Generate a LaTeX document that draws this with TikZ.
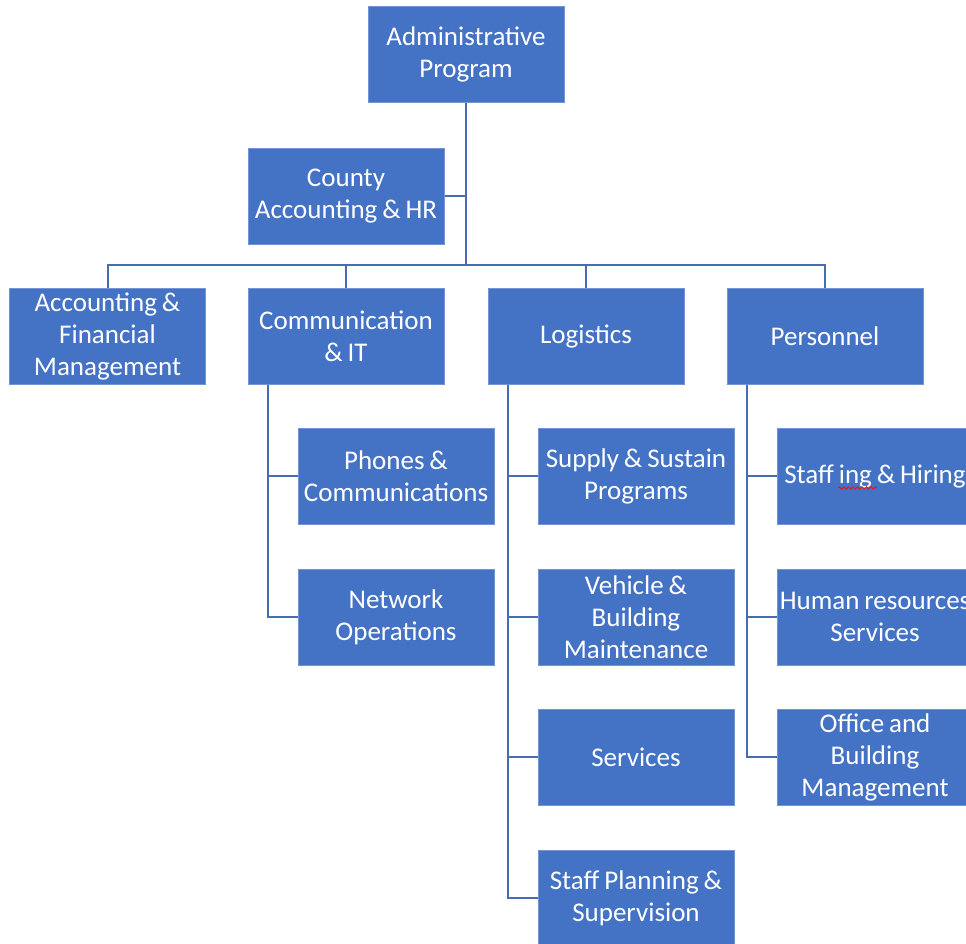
\documentclass[tikz,border=0pt]{standalone}
\usepackage{fontspec}
\setmainfont{Carlito}[WordSpace=0.8]
\usetikzlibrary{decorations.pathmorphing}
\definecolor{boxblue}{RGB}{68,114,196}
\definecolor{lineblue}{RGB}{72,108,178}
\definecolor{spellred}{RGB}{220,30,30}
\tikzset{
  orgbox/.style={rectangle, fill=boxblue, draw=boxblue!75!white, line width=1pt,
    minimum width=196pt, minimum height=96pt, inner sep=0pt,
    align=center, text=white,
    font=\fontsize{27}{32}\selectfont},
  link/.style={draw=lineblue, line width=2pt}
}
\begin{document}
\begin{tikzpicture}[x=1pt,y=-1pt]
\useasboundingbox (0,0) rectangle (966,943);
\clip (0,0) rectangle (966,943);
\node[orgbox] (admin) at (466,54.5) {Administrative\\Program};
\node[orgbox] (county) at (346,196) {County\\Accounting \& HR};
\node[orgbox] (acc) at (107.5,336) {Accounting \&\\Financial\\Management};
\node[orgbox] (comm) at (346,336) {Communication\\\& IT};
\node[orgbox] (log) at (586,336) {Logistics};
\node[orgbox] (pers) at (825,336) {Personnel};
\node[orgbox] (phones) at (396,476) {Phones \&\\Communications};
\node[orgbox] (network) at (396,617) {Network\\Operations};
\node[orgbox] (supply) at (636,476) {Supply \& Sustain\\Programs};
\node[orgbox] (vehicle) at (636,617) {Vehicle \&\\Building\\Maintenance};
\node[orgbox] (services) at (636,757) {Services};
\node[orgbox] (staffplan) at (636,898) {Staff Planning \&\\Supervision};
\node[orgbox] (staffing) at (875,476) {Staff ing \& Hiring};
\node[orgbox] (hr) at (875,617) {Human resources\\Services};
\node[orgbox] (office) at (875,757) {Office and\\Building\\Management};
% connectors
\coordinate (hub) at (466,265);
\draw[link] (admin.south) -- (hub);
\draw[link] (county.east) -- (county.east -| hub);
\draw[link] (acc.north) |- (hub) -| (pers.north);
\draw[link] (comm.north) -- (comm.north |- hub);
\draw[link] (log.north) -- (log.north |- hub);
% Communication children
\draw[link] ([xshift=20pt]comm.south west) |- (network.west);
\draw[link] ([xshift=20pt]comm.south west |- phones.west) -- (phones.west);
% Logistics children
\draw[link] ([xshift=20pt]log.south west) |- (staffplan.west);
\draw[link] ([xshift=20pt]log.south west |- supply.west) -- (supply.west);
\draw[link] ([xshift=20pt]log.south west |- vehicle.west) -- (vehicle.west);
\draw[link] ([xshift=20pt]log.south west |- services.west) -- (services.west);
% Personnel children
\draw[link] ([xshift=20pt]pers.south west) |- (office.west);
\draw[link] ([xshift=20pt]pers.south west |- staffing.west) -- (staffing.west);
\draw[link] ([xshift=20pt]pers.south west |- hr.west) -- (hr.west);
% spell-check squiggle
\draw[spellred, line width=1pt, decorate, decoration={snake, amplitude=1.2pt, segment length=4.5pt}] (838,488) -- (877,488);
\end{tikzpicture}
\end{document}
